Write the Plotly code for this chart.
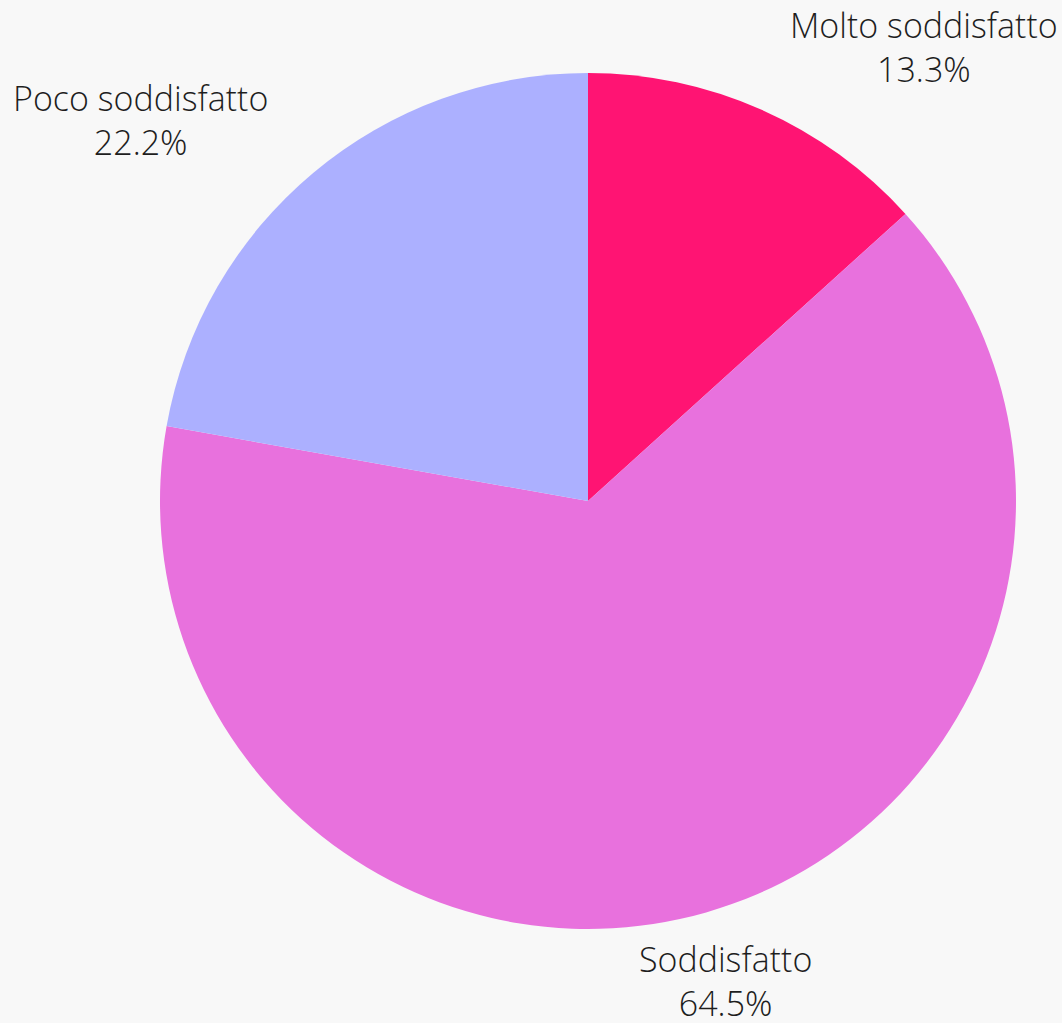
import plotly.graph_objects as go

labels = ["Molto soddisfatto", "Soddisfatto", "Poco soddisfatto"]
values = [13.3, 64.5, 22.2]
colors = ["#FF1473", "#E871DD", "#ACB0FF"]

W, H = 1062, 1023
cx, cy, r = 588, 501, 428

fig = go.Figure(go.Pie(
    labels=labels, values=values, sort=False, direction="clockwise", rotation=0,
    marker=dict(colors=colors, line=dict(width=0)),
    textinfo="none", hoverinfo="label+percent", showlegend=False,
    domain=dict(x=[(cx - r) / W, (cx + r) / W], y=[(H - cy - r) / H, (H - cy + r) / H]),
))

label_pos = {"Molto soddisfatto": (924, 47), "Soddisfatto": (725, 981), "Poco soddisfatto": (140, 120)}
for lab, v in zip(labels, values):
    x, y = label_pos[lab]
    fig.add_annotation(x=x / W, y=1 - y / H, xref="paper", yref="paper", showarrow=False,
                       text=f"{lab}<br>{v:.1f}%", align="center", xanchor="center", yanchor="middle",
                       font=dict(family="Open Sans Light, Open Sans", size=34, color="#1E1E1E", weight=300))

fig.update_layout(width=W, height=H, margin=dict(l=0, r=0, t=0, b=0),
                  paper_bgcolor="#F8F8F8", plot_bgcolor="#F8F8F8")
fig.write_html("out.html", config={"displayModeBar": False},
               post_script="document.body.style.margin='0';document.body.style.background='#F8F8F8';document.body.style.overflow='hidden';")
